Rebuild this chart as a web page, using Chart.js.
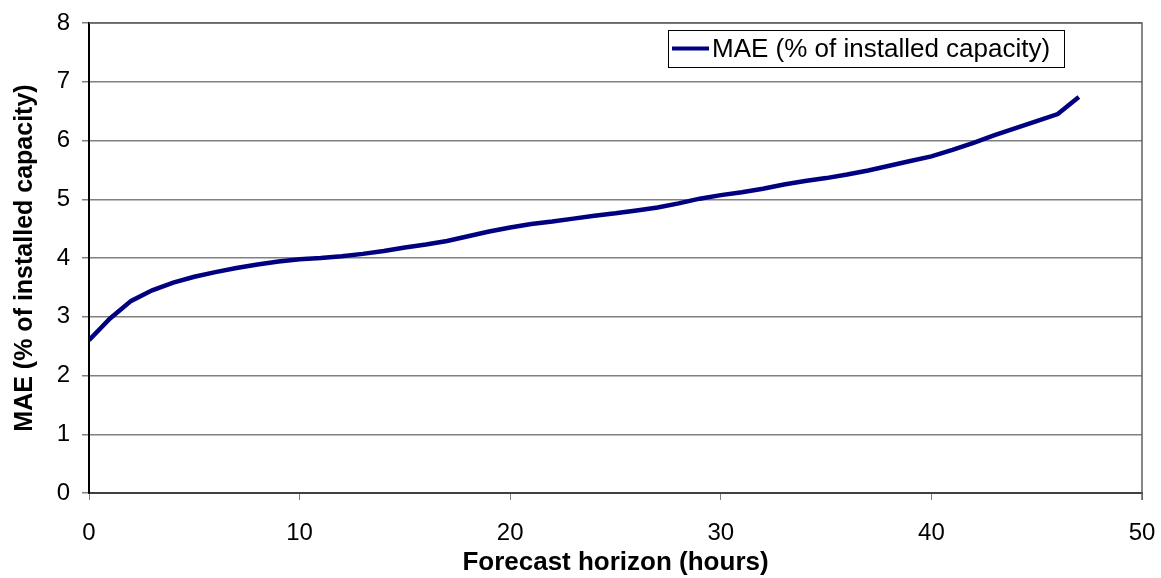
<!DOCTYPE html>
<html>
<head>
<meta charset="utf-8">
<script src="https://cdn.jsdelivr.net/npm/chart.js@4.4.0/dist/chart.umd.min.js"></script>
<style>
  html, body { margin: 0; padding: 0; background: #fff; }
  #wrap { width: 1161px; height: 578px; }
</style>
</head>
<body>
<div id="wrap"><canvas id="chart" width="1161" height="578"></canvas></div>
<script>
// data
const horizons = [0,1,2,3,4,5,6,7,8,9,10,11,12,13,14,15,16,17,18,19,20,21,22,23,
                  24,25,26,27,28,29,30,31,32,33,34,35,36,37,38,39,40,41,42,43,44,45,46,47];
const maeValues = [2.60,2.97,3.27,3.45,3.58,3.68,3.76,3.83,3.89,3.94,3.98,4.00,4.03,4.07,
                   4.12,4.18,4.23,4.29,4.37,4.45,4.52,4.58,4.62,4.67,4.72,4.76,4.81,4.86,
                   4.93,5.01,5.07,5.12,5.18,5.25,5.31,5.36,5.42,5.49,5.57,5.65,5.73,5.84,
                   5.96,6.09,6.21,6.33,6.45,6.74];
const seriesLabel = 'MAE (% of installed capacity)';
const xTitle = 'Forecast horizon (hours)';
const yTitle = 'MAE (% of installed capacity)';
const xTicks = [0, 10, 20, 30, 40, 50];
const yTicks = [0, 1, 2, 3, 4, 5, 6, 7, 8];

const FONT = '"Liberation Sans", Arial, sans-serif';
const LINE = '#000080';

// frame round the plot area + excel style legend box
const framePlugin = {
    id: 'frame',
    afterDraw(chart) {
        const ctx = chart.ctx;
        const a = chart.chartArea;
        ctx.save();
        ctx.strokeStyle = '#606060';
        ctx.lineWidth = 1.5;
        ctx.beginPath();
        ctx.moveTo(a.left, a.top);
        ctx.lineTo(a.right, a.top);
        ctx.lineTo(a.right, a.bottom + 7);
        ctx.stroke();

        // legend
        const bx = a.left + 579, by = a.top + 7, bw = 396, bh = 37;
        ctx.fillStyle = '#fff';
        ctx.fillRect(bx, by, bw, bh);
        ctx.strokeStyle = '#000';
        ctx.lineWidth = 1;
        ctx.strokeRect(bx + 0.5, by + 0.5, bw, bh);
        ctx.strokeStyle = LINE;
        ctx.lineWidth = 4;
        ctx.beginPath();
        ctx.moveTo(bx + 4, by + bh / 2);
        ctx.lineTo(bx + 41, by + bh / 2);
        ctx.stroke();
        ctx.fillStyle = '#000';
        ctx.font = '26px ' + FONT;
        ctx.textBaseline = 'middle';
        ctx.fillText(seriesLabel, bx + 44, by + bh / 2 + 1);
        ctx.restore();
    }
};

new Chart(document.getElementById('chart'), {
    type: 'line',
    data: {
        datasets: [{
            label: seriesLabel,
            data: horizons.map((h, i) => ({ x: h, y: maeValues[i] })),
            borderColor: LINE,
            borderWidth: 4.5,
            pointRadius: 0,
            tension: 0,
            fill: false
        }]
    },
    options: {
        responsive: false,
        animation: false,
        layout: { padding: { top: 23, right: 19, left: 0, bottom: 0 } },
        plugins: { legend: { display: false }, tooltip: { enabled: false } },
        scales: {
            x: {
                type: 'linear',
                min: 0, max: 50,
                afterBuildTicks: (s) => { s.ticks = xTicks.map(v => ({ value: v })); },
                afterFit: (s) => { s.height = 85; s.paddingLeft = 0; s.paddingRight = 0; },
                grid: { display: true, drawOnChartArea: false, color: '#808080', tickLength: 7 },
                border: { color: '#404040', width: 2 },
                ticks: { color: '#000', font: { family: FONT, size: 24 }, padding: 19, maxRotation: 0 },
                title: { display: true, text: xTitle, color: '#000', font: { family: FONT, size: 26, weight: 'bold' }, padding: { top: 0, bottom: 0 } }
            },
            y: {
                min: 0, max: 8,
                afterBuildTicks: (s) => { s.ticks = yTicks.map(v => ({ value: v })); },
                afterFit: (s) => { s.width = 89; s.paddingTop = 0; s.paddingBottom = 0; },
                grid: { color: '#808080', lineWidth: 1.5, tickLength: 7 },
                border: { color: '#000', width: 2 },
                ticks: { color: '#000', font: { family: FONT, size: 24 }, padding: 12 },
                title: { display: true, text: yTitle, color: '#000', font: { family: FONT, size: 25, weight: 'bold' }, padding: { top: 10, bottom: 0 } }
            }
        }
    },
    plugins: [framePlugin]
});
</script>
</body>
</html>
